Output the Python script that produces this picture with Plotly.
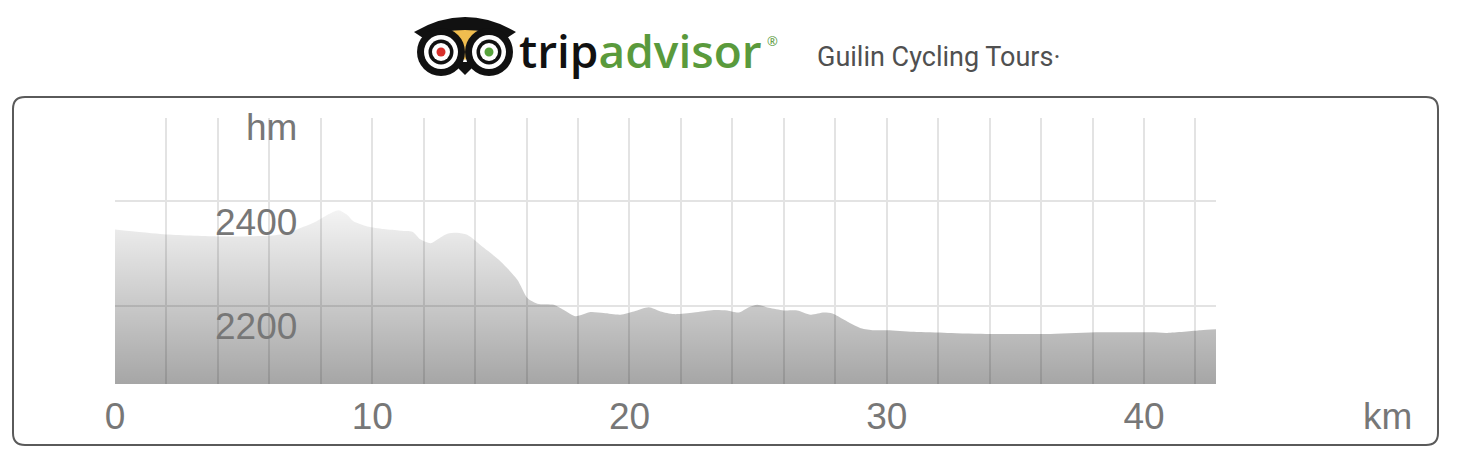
import plotly.graph_objects as go

# ---- data ----
km = [0.0, 1.89, 3.97, 5.92, 6.70, 7.21, 7.72, 8.25, 8.69, 9.03, 9.27, 9.81, 10.45, 11.10,
      11.56, 11.88, 12.27, 12.53, 12.92, 13.30, 13.69, 14.34, 14.99, 15.64, 16.03, 16.42,
      17.06, 17.45, 17.90, 18.49, 19.00, 19.65, 20.17, 20.75, 21.21, 21.73, 22.50, 23.28,
      23.80, 24.25, 24.64, 24.97, 25.42, 26.00, 26.52, 27.04, 27.56, 27.89, 28.34, 28.99,
      29.50, 30.02, 31.05, 32.36, 34.05, 36.37, 38.32, 40.26, 40.91, 42.21, 42.82]
elev = [2346, 2337, 2333, 2334, 2339, 2349, 2359, 2374, 2383, 2374, 2362, 2352, 2347, 2344,
        2342, 2327, 2320, 2327, 2338, 2340, 2336, 2311, 2285, 2250, 2215, 2204,
        2202, 2192, 2180, 2188, 2186, 2183, 2189, 2197, 2189, 2184, 2187, 2192,
        2191, 2187, 2197, 2202, 2196, 2191, 2191, 2183, 2187, 2185, 2173, 2157,
        2153, 2153, 2150, 2148, 2146, 2146, 2149, 2149, 2148, 2153, 2155]

x_ticks = [0, 10, 20, 30, 40]
y_ticks = [2200, 2400]
y_unit = "hm"
x_unit = "km"
title_text = "Guilin Cycling Tours·"

X_RANGE = [0, 42.8]
Y_RANGE = [2050, 2560]

# ---- layout geometry (page offset of 8 px from the default body margin) ----
OFF = 8
FW, FH = 1459 - OFF, 460 - OFF
ML, MR, MT, MB = 115 - OFF, 243, 118 - OFF, 76
PW = FW - ML - MR
PH = FH - MT - MB


def xp(p):
    """page pixel x -> paper fraction"""
    return (p - OFF - ML) / PW


def yp(p):
    """page pixel y -> paper fraction"""
    return (FH - MB - (p - OFF)) / PH


def path(cmds):
    out = []
    for c in cmds:
        if isinstance(c, str):
            out.append(c)
        else:
            out.append(f"{xp(c[0]):.5f},{yp(c[1]):.5f}")
    return " ".join(out)


fig = go.Figure()
fig.add_trace(go.Scatter(
    x=km, y=elev, mode="lines",
    line=dict(width=0, color="rgba(0,0,0,0)", shape="spline", smoothing=0.7),
    fill="tozeroy",
    fillgradient=dict(type="vertical", start=Y_RANGE[0], stop=2390,
                      colorscale=[[0, "rgba(0,0,0,0.35)"], [1, "rgba(0,0,0,0.04)"]]),
    hoverinfo="skip", showlegend=False,
))

shapes = []
# rounded frame
x0, x1, y0, y1, r = 13, 1438, 97, 445, 12
shapes.append(dict(
    type="path", xref="paper", yref="paper", layer="above",
    path=path(["M", (x0 + r, y0), "L", (x1 - r, y0), "Q", (x1, y0), (x1, y0 + r),
               "L", (x1, y1 - r), "Q", (x1, y1), (x1 - r, y1),
               "L", (x0 + r, y1), "Q", (x0, y1), (x0, y1 - r),
               "L", (x0, y0 + r), "Q", (x0, y0), (x0 + r, y0), "Z"]),
    line=dict(color="#5a5a5a", width=2), fillcolor="rgba(0,0,0,0)"))

# owl logo
shapes.append(dict(type="path", xref="paper", yref="paper",
                   path=path(["M", (438, 36), "Q", (465, 22), (492, 36), "L", (465, 60), "Z"]),
                   fillcolor="#f0bd4f", line=dict(width=0)))
shapes.append(dict(type="path", xref="paper", yref="paper",
                   path=path(["M", (414, 32), "Q", (465, 2), (516, 32), "L", (507, 38),
                              "Q", (465, 22), (423, 38), "Z"]),
                   fillcolor="#111111", line=dict(width=0)))
shapes.append(dict(type="path", xref="paper", yref="paper",
                   path=path(["M", (452, 62), "L", (465, 75), "L", (478, 62), "Z"]),
                   fillcolor="#111111", line=dict(width=0)))


def circ(cx, cy, rr, color):
    return dict(type="circle", xref="paper", yref="paper",
                x0=xp(cx - rr), x1=xp(cx + rr), y0=yp(cy + rr), y1=yp(cy - rr),
                fillcolor=color, line=dict(width=0))


for cx, pupil in [(441, "#d8302c"), (489, "#57a33c")]:
    shapes.append(circ(cx, 52, 24, "#111111"))
    shapes.append(circ(cx, 52, 17, "#ffffff"))
    shapes.append(circ(cx, 52, 12.5, "#111111"))
    shapes.append(circ(cx, 52, 9, "#ffffff"))
    shapes.append(circ(cx, 52, 4.5, pupil))

annotations = []
annotations.append(dict(
    xref="paper", yref="paper", x=xp(517), y=yp(50), xanchor="left", yanchor="middle",
    text="<span style='color:#111111'>trip</span><span style='color:#5a9a3c'>advisor</span>",
    showarrow=False, font=dict(family="Open Sans", size=46, weight=600)))
annotations.append(dict(
    xref="paper", yref="paper", x=xp(765), y=yp(41), xanchor="left", yanchor="middle",
    text="®", showarrow=False, font=dict(family="Open Sans", size=13, color="#5a9a3c")))
annotations.append(dict(
    xref="paper", yref="paper", x=xp(815), y=yp(57), xanchor="left", yanchor="middle",
    text=title_text, showarrow=False, font=dict(family="Roboto", size=27, color="#505050")))

label_font = dict(family="Liberation Sans, Arial", size=37, color="#777777")
for v in y_ticks:
    annotations.append(dict(
        xref="paper", yref="y", x=xp(299), y=v, xanchor="right", yanchor="middle",
        yshift=-21, text=str(v), showarrow=False, font=label_font))
annotations.append(dict(
    xref="paper", yref="paper", x=xp(299), y=yp(127), xanchor="right", yanchor="middle",
    text=y_unit, showarrow=False, font=label_font))
annotations.append(dict(
    xref="paper", yref="paper", x=xp(1387), y=yp(416), xanchor="center", yanchor="middle",
    text=x_unit, showarrow=False, font=label_font))

grid_color = "#e3e3e3"
fig.update_layout(
    width=FW, height=FH,
    margin=dict(l=ML, r=MR, t=MT, b=MB, pad=0),
    paper_bgcolor="white", plot_bgcolor="white",
    showlegend=False,
    shapes=shapes, annotations=annotations,
    xaxis=dict(range=X_RANGE, tickvals=x_ticks, ticktext=[str(t) for t in x_ticks],
               showgrid=True, gridcolor=grid_color, gridwidth=1.5,
               minor=dict(dtick=2, tick0=0, showgrid=True, gridcolor=grid_color, gridwidth=1.5),
               zeroline=False, showline=False, ticks="", ticklabelstandoff=7,
               tickfont=label_font, fixedrange=True),
    yaxis=dict(range=Y_RANGE, tickvals=y_ticks, showticklabels=False,
               showgrid=True, gridcolor=grid_color, gridwidth=1.5,
               zeroline=False, showline=False, ticks="", fixedrange=True),
)

fig.write_html("out.html")
